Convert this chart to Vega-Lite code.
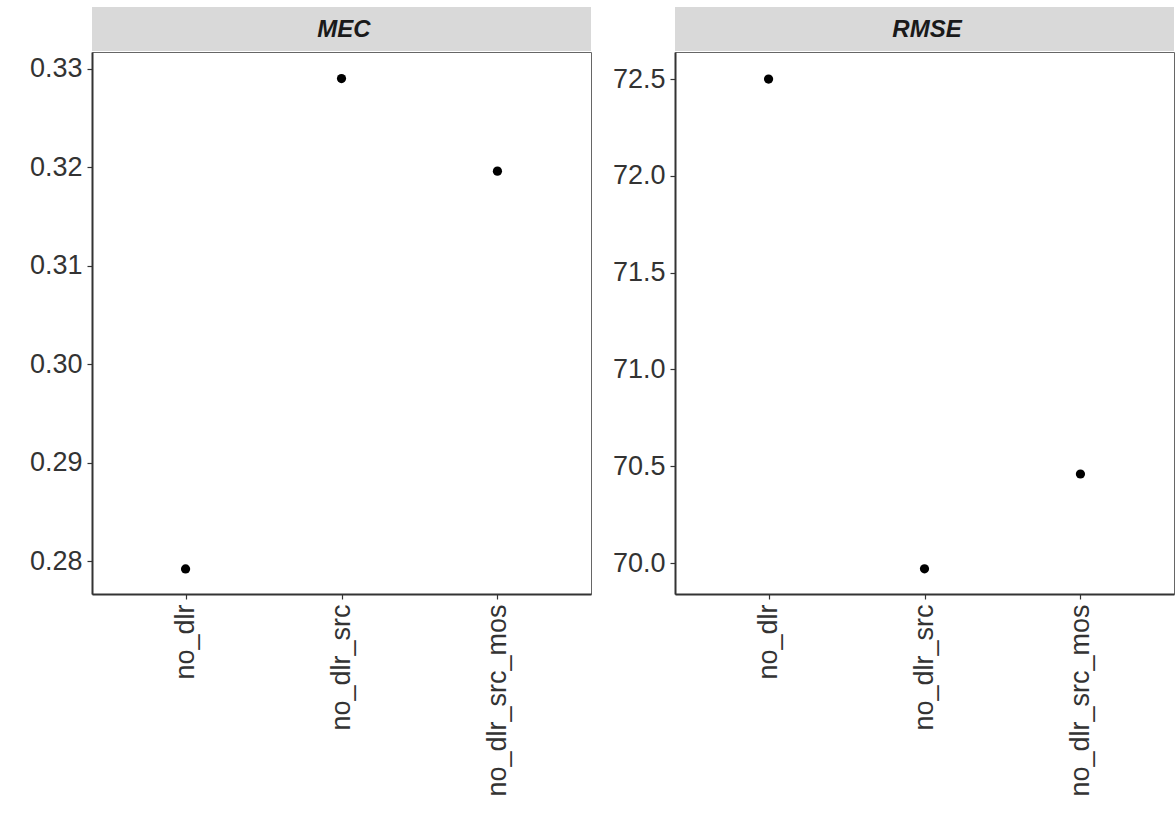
{
  "$schema": "https://vega.github.io/schema/vega-lite/v6.json",
  "background": "white",
  "padding": {"left": 14, "top": 7, "right": 0, "bottom": 0},
  "config": {
    "font": "Liberation Sans",
    "concat": {"spacing": 5},
    "view": {"stroke": "#666666", "strokeWidth": 1},
    "axis": {
      "labelFont": "Liberation Sans",
      "labelFontSize": 27,
      "labelLimit": 0,
      "labelColor": "#333333",
      "tickColor": "#333333",
      "tickSize": 5,
      "tickWidth": 1.2,
      "domainColor": "#333333",
      "domainWidth": 2,
      "grid": false,
      "title": null
    }
  },
  "data": {
    "values": [
      {"metric": "MEC", "model": "no_dlr", "value": 0.2792},
      {"metric": "MEC", "model": "no_dlr_src", "value": 0.3290},
      {"metric": "MEC", "model": "no_dlr_src_mos", "value": 0.3196},
      {"metric": "RMSE", "model": "no_dlr", "value": 72.50},
      {"metric": "RMSE", "model": "no_dlr_src", "value": 69.97},
      {"metric": "RMSE", "model": "no_dlr_src_mos", "value": 70.46}
    ]
  },
  "hconcat": [
    {
      "vconcat": [
        {
          "width": 499,
          "height": 44,
          "view": {"fill": "#d9d9d9", "stroke": null},
          "transform": [{"filter": "datum.metric === 'MEC'"}, {"aggregate": [], "groupby": ["metric"]}],
          "mark": {"type": "text", "fontSize": 24, "fontWeight": "bold", "fontStyle": "italic", "color": "#1a1a1a", "font": "Liberation Sans"},
          "encoding": {
            "text": {"field": "metric"},
            "x": {"value": 252},
            "y": {"value": 23}
          }
        },
        {
          "width": 499,
          "height": 542,
          "transform": [{"filter": "datum.metric === 'MEC'"}],
          "mark": {"type": "point", "filled": true, "color": "black", "size": 85, "opacity": 1},
          "encoding": {
            "x": {"field": "model", "type": "nominal", "scale": {"type": "point", "padding": 0.6},
                  "axis": {"labelAngle": -90, "labelPadding": 5}},
            "y": {"field": "value", "type": "quantitative",
                  "scale": {"domain": [0.27665, 0.3317], "nice": false, "zero": false},
                  "axis": {"values": [0.28, 0.29, 0.30, 0.31, 0.32, 0.33], "format": ".2f", "labelPadding": 5, "minExtent": 77, "maxExtent": 77}}
          }
        }
      ],
      "spacing": 0
    },
    {
      "vconcat": [
        {
          "width": 499,
          "height": 44,
          "view": {"fill": "#d9d9d9", "stroke": null},
          "transform": [{"filter": "datum.metric === 'RMSE'"}, {"aggregate": [], "groupby": ["metric"]}],
          "mark": {"type": "text", "fontSize": 24, "fontWeight": "bold", "fontStyle": "italic", "color": "#1a1a1a", "font": "Liberation Sans"},
          "encoding": {
            "text": {"field": "metric"},
            "x": {"value": 252},
            "y": {"value": 23}
          }
        },
        {
          "width": 499,
          "height": 542,
          "transform": [{"filter": "datum.metric === 'RMSE'"}],
          "mark": {"type": "point", "filled": true, "color": "black", "size": 85, "opacity": 1},
          "encoding": {
            "x": {"field": "model", "type": "nominal", "scale": {"type": "point", "padding": 0.6},
                  "axis": {"labelAngle": -90, "labelPadding": 5}},
            "y": {"field": "value", "type": "quantitative",
                  "scale": {"domain": [69.84, 72.64], "nice": false, "zero": false},
                  "axis": {"values": [70.0, 70.5, 71.0, 71.5, 72.0, 72.5], "format": ".1f", "labelPadding": 5, "minExtent": 77, "maxExtent": 77}}
          }
        }
      ],
      "spacing": 0
    }
  ]
}
